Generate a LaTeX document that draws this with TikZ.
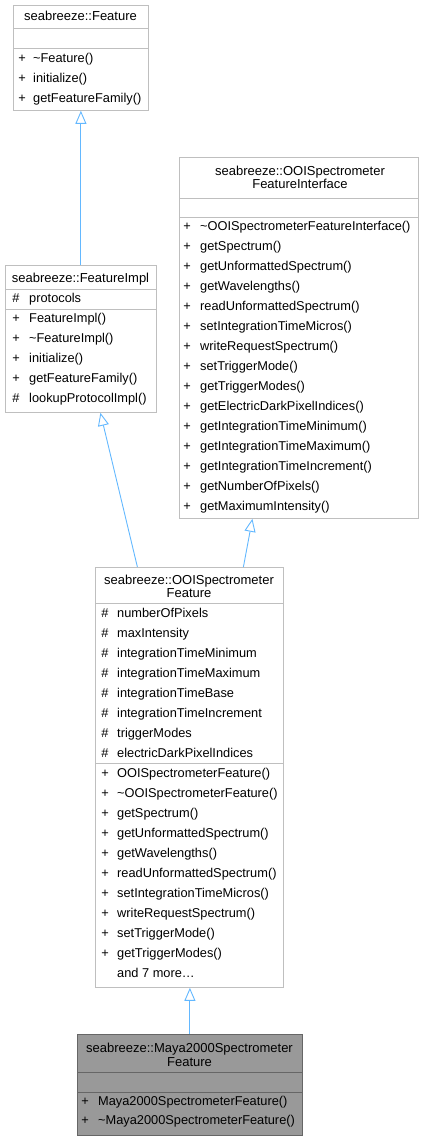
\documentclass[tikz,border=0pt]{standalone}
\usepackage{fontspec}
\setmainfont{Liberation Sans}
\usetikzlibrary{arrows.meta}
\definecolor{boxline}{HTML}{BFBFBF}
\definecolor{curline}{HTML}{666666}
\definecolor{curfill}{HTML}{999999}
\definecolor{inhblue}{HTML}{63B8FF}

\begin{document}
\begin{tikzpicture}[x=1pt,y=-1pt,font=\fontsize{12.8}{13.5}\selectfont,
  cls/.style={draw=boxline, line width=0.8pt, fill=white, anchor=north west, inner sep=0pt},
  cur/.style={cls, draw=curline, fill=curfill},
  sep/.style={draw=boxline, line width=0.8pt},
  mem/.style={anchor=base west, inner sep=0pt},
  sym/.style={anchor=base, inner sep=0pt},
  ttl/.style={anchor=base, inner sep=0pt, font=\fontsize{13}{13.5}\selectfont},
  inh/.style={draw=inhblue, line width=0.9pt, -{Triangle[open, length=13pt, width=11pt, fill=white]}}]
\useasboundingbox (0,0) rectangle (424,1140);

% seabreeze::Feature
\node[cls, minimum width=135pt, minimum height=105pt] (feature) at (13,5) {};
\node[ttl] (featureT) at (80.5,21) {seabreeze::Feature};
\draw[sep] (feature.west |- 0,28) -- (feature.east |- 0,28);
\draw[sep] (feature.west |- 0,48) -- (feature.east |- 0,48);
\foreach \s/\m [count=\i from 0] in {+/\textasciitilde Feature(), +/initialize(), +/getFeatureFamily()}{
  \node[sym] (featureS\i) at (22,62.6+20*\i) {\s};
  \node[mem] (featureM\i) at (33,62.6+20*\i) {\m};
}

% seabreeze::OOISpectrometerFeatureInterface
\node[cls, minimum width=239pt, minimum height=361pt] (iface) at (179,157) {};
\node[ttl] (ifaceT1) at (300,175.5) {seabreeze::OOISpectrometer};
\node[ttl] (ifaceT2) at (300,188.7) {FeatureInterface};
\draw[sep] (iface.west |- 0,198) -- (iface.east |- 0,198);
\draw[sep] (iface.west |- 0,217) -- (iface.east |- 0,217);
\foreach \m [count=\i from 0] in {\textasciitilde OOISpectrometerFeatureInterface(), getSpectrum(),
    getUnformattedSpectrum(), getWavelengths(), readUnformattedSpectrum(),
    setIntegrationTimeMicros(), writeRequestSpectrum(), setTriggerMode(),
    getTriggerModes(), getElectricDarkPixelIndices(), getIntegrationTimeMinimum(),
    getIntegrationTimeMaximum(), getIntegrationTimeIncrement(), getNumberOfPixels(),
    getMaximumIntensity()}{
  \node[sym] (ifaceS\i) at (187,230.6+20*\i) {+};
  \node[mem] (ifaceM\i) at (200,230.6+20*\i) {\m};
}

% seabreeze::FeatureImpl
\node[cls, minimum width=151pt, minimum height=147pt] (impl) at (5,265) {};
\node[ttl] (implT) at (80.5,282) {seabreeze::FeatureImpl};
\draw[sep] (impl.west |- 0,289) -- (impl.east |- 0,289);
\draw[sep] (impl.west |- 0,309) -- (impl.east |- 0,309);
\foreach \s/\m [count=\i from 0] in {\#/protocols, +/FeatureImpl(), +/\textasciitilde FeatureImpl(),
    +/initialize(), +/getFeatureFamily(), \#/lookupProtocolImpl()}{
  \node[sym] (implS\i) at (16,302.6+20*\i) {\s};
  \node[mem] (implM\i) at (29,302.6+20*\i) {\m};
}

% seabreeze::OOISpectrometerFeature
\node[cls, minimum width=188pt, minimum height=420pt] (ooi) at (95,567) {};
\node[ttl] (ooiT1) at (189,584.6) {seabreeze::OOISpectrometer};
\node[ttl] (ooiT2) at (189,597.8) {Feature};
\draw[sep] (ooi.west |- 0,603) -- (ooi.east |- 0,603);
\draw[sep] (ooi.west |- 0,763) -- (ooi.east |- 0,763);
\foreach \m [count=\i from 0] in {numberOfPixels, maxIntensity, integrationTimeMinimum,
    integrationTimeMaximum, integrationTimeBase, integrationTimeIncrement,
    triggerModes, electricDarkPixelIndices}{
  \node[sym] (ooiA\i) at (105,617.6+20*\i) {\#};
  \node[mem] (ooiN\i) at (117,617.6+20*\i) {\m};
}
\foreach \m [count=\i from 0] in {OOISpectrometerFeature(), \textasciitilde OOISpectrometerFeature(),
    getSpectrum(), getUnformattedSpectrum(), getWavelengths(), readUnformattedSpectrum(),
    setIntegrationTimeMicros(), writeRequestSpectrum(), setTriggerMode(), getTriggerModes()}{
  \node[sym] (ooiS\i) at (105,777.6+20*\i) {+};
  \node[mem] (ooiM\i) at (117,777.6+20*\i) {\m};
}
\node[mem] (ooiMore) at (117,977.6) {and 7 more\dots};

% seabreeze::Maya2000SpectrometerFeature
\node[cur, minimum width=225pt, minimum height=101pt] (maya) at (77,1034) {};
\node[ttl] (mayaT1) at (189.5,1052.6) {seabreeze::Maya2000Spectrometer};
\node[ttl] (mayaT2) at (189.5,1066.2) {Feature};
\draw[sep, curline] (maya.west |- 0,1072) -- (maya.east |- 0,1072);
\draw[sep, curline] (maya.west |- 0,1092) -- (maya.east |- 0,1092);
\foreach \m [count=\i from 0] in {Maya2000SpectrometerFeature(), \textasciitilde Maya2000SpectrometerFeature()}{
  \node[sym] (mayaS\i) at (85,1105.8+19*\i) {+};
  \node[mem] (mayaM\i) at (98,1105.8+19*\i) {\m};
}

% inheritance
\draw[inh] (impl) -- (feature);
\draw[inh] ([xshift=-52pt]ooi.north) -- ([xshift=19.5pt]impl.south);
\draw[inh] ([xshift=54pt]ooi.north) -- ([xshift=-46.5pt]iface.south);
\draw[inh] (maya.north) -- (maya.north |- ooi.south);
\end{tikzpicture}
\end{document}
